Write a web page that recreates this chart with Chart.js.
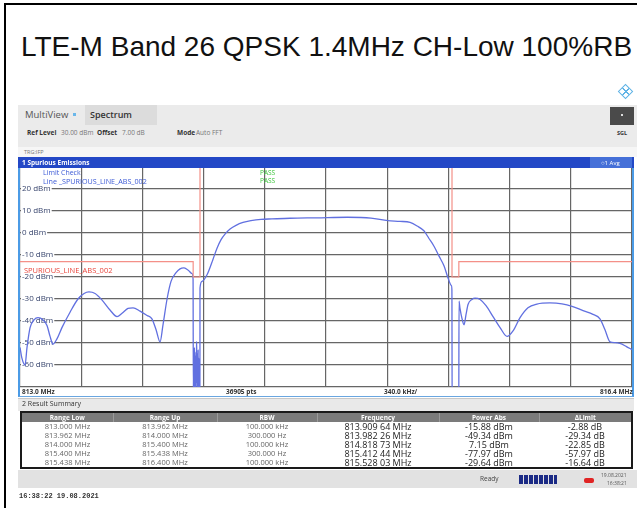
<!DOCTYPE html>
<html>
<head>
<meta charset="utf-8">
<title>LTE-M Band 26 Spurious Emissions</title>
<script src="https://cdn.jsdelivr.net/npm/chart.js@4.4.1/dist/chart.umd.min.js"></script>
<style>
  html, body { margin: 0; padding: 0; background: #fff; }
  body { width: 637px; height: 508px; position: relative; overflow: hidden; font-family: "Open Sans", sans-serif; }
  .t { position: absolute; white-space: nowrap; line-height: 10px; height: 10px; }
  .b { font-weight: bold; }
  #title { position: absolute; left: 21px; top: 31px; line-height: 32px; font: 28px "Liberation Sans", Arial, sans-serif; color: #111; white-space: nowrap; }
  #plotFrame { position: absolute; left: 18px; top: 157px; width: 612px; height: 239px; border-left: 2px solid #4b9be6; border-right: 2px solid #4b9be6; border-bottom: 1px solid #6aa6e0; }
  #plot { position: absolute; left: 20px; top: 165px; }
  #bar { position: absolute; left: 18px; top: 157px; width: 616px; height: 11px; background: #2348c6; z-index: 3; }
  table { position: absolute; left: 20px; top: 411px; border-collapse: collapse; table-layout: fixed; border: 2px solid #1a1a1a; }
  td { padding: 0; height: 9px; line-height: 9px; text-align: center; white-space: nowrap; overflow: hidden; }
  thead td { background: #7b7b7b; color: #fff; font-weight: bold; font-size: 6.5px; border-right: 1px solid #9a9a9a; }
  tbody td { background: #fff; }
  tbody td.s { font-size: 7.5px; color: #666; }
  tbody td.l { font-size: 9px; color: #222; }
</style>
</head>
<body>
<div style="position:absolute;left:4px;top:3px;width:633px;height:2px;background:#000"></div>
<div style="position:absolute;left:4px;top:3px;width:2px;height:505px;background:#000"></div>
<div id="title">LTE-M Band 26 QPSK 1.4MHz CH-Low 100%RB</div>

<!-- instrument icon -->
<div style="position:absolute;left:620px;top:86px;width:9px;height:9px;transform:rotate(45deg);border:1.5px solid #5fb3e6;background:linear-gradient(90deg,transparent 4px,#5fb3e6 4px,#5fb3e6 5.5px,transparent 5.5px),linear-gradient(0deg,transparent 4px,#5fb3e6 4px,#5fb3e6 5.5px,transparent 5.5px)"></div>

<!-- toolbar -->
<div style="position:absolute;left:18px;top:105px;width:619px;height:42px;background:#ebebeb"></div>
<div style="position:absolute;left:18px;top:147px;width:619px;height:10px;background:#f6f6f6"></div>
<div style="position:absolute;left:85px;top:105px;width:72px;height:20px;background:#dcdcdc"></div>
<div class="t" style="left:25px;top:110px;font-size:9.5px;color:#555">MultiView</div>
<div style="position:absolute;left:73px;top:113px;width:3px;height:3px;background:#6ab7ea"></div>
<div class="t" style="left:90px;top:110px;font-size:9px;color:#333;font-weight:600">Spectrum</div>
<div class="t b" style="left:27px;top:128px;font-size:6.5px;color:#333">Ref Level</div>
<div class="t" style="left:61px;top:128px;font-size:6.5px;color:#777">30.00 dBm</div>
<div class="t b" style="left:97px;top:128px;font-size:6.5px;color:#333">Offset</div>
<div class="t" style="left:122px;top:128px;font-size:6.5px;color:#777">7.00 dB</div>
<div class="t b" style="left:177px;top:128px;font-size:6.5px;color:#333">Mode</div>
<div class="t" style="left:196px;top:128px;font-size:6.5px;color:#777">Auto FFT</div>
<div style="position:absolute;left:610px;top:107px;width:24px;height:18px;background:#4a4a4a"></div>
<div style="position:absolute;left:621px;top:114px;width:2px;height:2px;background:#ddd"></div>
<div class="t b" style="left:617px;top:128px;font-size:5.5px;color:#333">SGL</div>
<div class="t" style="left:24px;top:147px;font-size:5.5px;color:#777">TRG:IFP</div>

<!-- diagram window -->
<div id="plotFrame"></div>
<div id="bar"></div>
<div class="t b" style="left:22px;top:157.5px;font-size:6.5px;color:#fff;z-index:4">1 Spurious Emissions</div>
<div style="position:absolute;left:590px;top:157px;width:42px;height:11px;background:#4570d8;z-index:4"></div>
<div class="t" style="left:601px;top:157.5px;font-size:6px;color:#fff;z-index:5">&#9675;1 Avg</div>
<canvas id="plot" width="612" height="224"></canvas>
<div class="t" style="left:43px;top:168px;font-size:7px;color:#3c5ad6;z-index:4">Limit Check</div>
<div class="t" style="left:43px;top:176px;font-size:7.2px;color:#3c5ad6;z-index:4">Line _SPURIOUS_LINE_ABS_002</div>
<div class="t" style="left:260px;top:168px;font-size:6.5px;color:#3cc43c;z-index:4">PASS</div>
<div class="t" style="left:260px;top:176px;font-size:6.5px;color:#3cc43c;z-index:4">PASS</div>
<div class="t" style="left:24px;top:265px;font-size:7.5px;color:#e8453c;z-index:4">SPURIOUS_LINE_ABS_002</div>
<div class="t b" style="left:22px;top:387px;font-size:6.5px;color:#333">813.0 MHz</div>
<div class="t b" style="left:226px;top:387px;font-size:6.5px;color:#333">36905 pts</div>
<div class="t b" style="left:384px;top:387px;font-size:6.5px;color:#333">340.0 kHz/</div>
<div class="t b" style="left:600px;top:387px;font-size:6.5px;color:#333">816.4 MHz</div>

<!-- result summary -->
<div style="position:absolute;left:18px;top:398px;width:616px;height:12px;background:#e9e9e9;border-top:1px solid #c8c8c8"></div>
<div class="t" style="left:22px;top:399px;font-size:7px;color:#333">2 Result Summary</div>
<table id="summary">
  <colgroup><col style="width:92px"><col style="width:104px"><col style="width:100px"><col style="width:122px"><col style="width:100px"><col style="width:93px"></colgroup>
  <thead><tr id="headRow"></tr></thead>
  <tbody id="bodyRows"></tbody>
</table>

<!-- status bar -->
<div style="position:absolute;left:18px;top:470px;width:619px;height:18px;background:#e2e2e2"></div>
<div class="t" style="left:480px;top:474px;font-size:6.5px;color:#444">Ready</div>
<div style="position:absolute;left:519px;top:475px;width:38px;height:9px;background:repeating-linear-gradient(90deg,#1b2a85 0 4px,#e2e2e2 4px 5px)"></div>
<div style="position:absolute;left:584px;top:478px;width:10px;height:5px;border-radius:2px;background:#e02424"></div>
<div class="t" style="left:601px;top:470px;font-size:5px;color:#555">19.08.2021</div>
<div class="t" style="left:607px;top:478px;font-size:5px;color:#555">16:38:21</div>

<div class="t b" style="left:19px;top:492px;font:bold 7px 'Liberation Mono', monospace;color:#333">16:38:22  19.08.2021</div>

<script>
// sweep settings (MHz / dBm)
const freqStart = 813.0;
const freqStop = 816.4;
const freqStep = 0.34;
const refLevel = 30;
const bottomLevel = -70;
const levelLabels = [20, 10, 0, -10, -20, -30, -40, -50, -60];

const traceFreq = [
  813.000, 813.011, 813.028, 813.039, 813.056, 813.078, 813.100, 813.128, 813.150, 813.167,
  813.183, 813.206, 813.233, 813.278, 813.322, 813.356, 813.383, 813.417, 813.456, 813.500,
  813.539, 813.567, 813.600, 813.628, 813.667, 813.706, 813.733, 813.756, 813.778, 813.794,
  813.817, 813.839, 813.867, 813.889, 813.90964, 813.933, 813.956, 813.9615,
  813.963, 813.965, 813.967, 813.969, 813.971, 813.973, 813.975, 813.977, 813.979, 813.981,
  813.98226, 813.984, 813.986, 813.988, 813.990, 813.992, 813.994, 813.996, 813.998, 813.9995,
  814.000, 814.011, 814.039, 814.072, 814.094, 814.117, 814.139, 814.167, 814.200, 814.239,
  814.283, 814.339, 814.400, 814.500, 814.650, 814.81873, 814.950, 815.044, 815.111, 815.167,
  815.206, 815.244, 815.272, 815.300, 815.328, 815.356, 815.378, 815.397, 815.3995,
  815.401, 815.405, 815.410, 815.41244, 815.416, 815.422, 815.428, 815.434, 815.4375,
  815.439, 815.444, 815.456, 815.467, 815.478, 815.489, 815.511, 815.52803, 815.556, 815.589,
  815.628, 815.667, 815.706, 815.739, 815.778, 815.822, 815.872, 815.944, 816.011, 816.067,
  816.128, 816.183, 816.222, 816.250, 816.278, 816.306, 816.333, 816.367, 816.400
];
const traceLevel = [
  -52, -57, -60, -52, -43, -39.5, -38.5, -39.5, -42, -47,
  -50.5, -48, -43, -36, -30, -27.5, -26.8, -27.5, -30.5, -35,
  -38, -36.5, -34.3, -34, -35.5, -37.5, -39, -44, -49.5, -42,
  -30, -22, -18, -16.3, -15.88, -16.8, -18.5, -21,
  -72, -55, -78, -52, -70, -56, -80, -54, -68, -51,
  -49.34, -74, -55, -66, -53, -76, -57, -69, -60, -78,
  -25, -22, -19, -12, -7, -3, -0.5, 1.8, 3.5, 4.8,
  5.6, 6.2, 6.4, 6.7, 6.9, 7.15, 6.8, 5.6, 5.3, 4.8,
  3.2, 1, -2.5, -6, -10.5, -15, -20.5, -24, -26,
  -85, -82, -80, -77.97, -83, -81, -84, -80, -86,
  -31, -34, -39, -41.7, -37, -32.5, -30.2, -29.64, -30.2, -33,
  -38, -43, -47, -44.5, -38.5, -34, -32.3, -31.8, -32.2, -33.3,
  -35.3, -37, -39, -44, -49.5, -49.8, -50.2, -51.5, -53
];

// limit line SPURIOUS_LINE_ABS_002
const limitFreq = [813.0, 813.962, 813.962, 814.0, 814.0, 815.4, 815.4, 815.438, 815.438, 816.4];
const limitLevel = [-13, -13, -20, -20, 30, 30, -20, -20, -13, -13];

// result summary
const rangeLow = ['813.000 MHz', '813.962 MHz', '814.000 MHz', '815.400 MHz', '815.438 MHz'];
const rangeUp = ['813.962 MHz', '814.000 MHz', '815.400 MHz', '815.438 MHz', '816.400 MHz'];
const rbw = ['100.000 kHz', '300.000 Hz', '100.000 kHz', '300.000 Hz', '100.000 kHz'];
const peakFreq = ['813.909 64 MHz', '813.982 26 MHz', '814.818 73 MHz', '815.412 44 MHz', '815.528 03 MHz'];
const powerAbs = ['-15.88 dBm', '-49.34 dBm', '7.15 dBm', '-77.97 dBm', '-29.64 dBm'];
const deltaLimit = ['-2.88 dB', '-29.34 dB', '-22.85 dB', '-57.97 dB', '-16.64 dB'];
const headers = ['Range Low', 'Range Up', 'RBW', 'Frequency', 'Power Abs', '\u0394Limit'];

(function buildTable() {
  const head = document.getElementById('headRow');
  headers.forEach(h => { const td = document.createElement('td'); td.textContent = h; head.appendChild(td); });
  const body = document.getElementById('bodyRows');
  for (let i = 0; i < rangeLow.length; i++) {
    const tr = document.createElement('tr');
    [[rangeLow[i], 's'], [rangeUp[i], 's'], [rbw[i], 's'], [peakFreq[i], 'l'], [powerAbs[i], 'l'], [deltaLimit[i], 'l']]
      .forEach(([txt, cls]) => { const td = document.createElement('td'); td.className = cls; td.textContent = txt; tr.appendChild(td); });
    body.appendChild(tr);
  }
})();

(function renderSpectrum() {
  const ctx = document.getElementById('plot');
  const tracePts = traceFreq.map((f, i) => ({ x: f, y: traceLevel[i] }));
  const limitPts = limitFreq.map((f, i) => ({ x: f, y: limitLevel[i] }));
  const hasLabel = v => levelLabels.includes(v);

  new Chart(ctx, {
    type: 'line',
    data: {
      datasets: [
        { label: 'Limit', data: limitPts, borderColor: '#f49088', borderWidth: 1.2, pointRadius: 0, tension: 0 },
        { label: 'Trace', data: tracePts, borderColor: '#6170e0', borderWidth: 1.3, pointRadius: 0, cubicInterpolationMode: 'monotone' }
      ]
    },
    options: {
      responsive: false,
      animation: false,
      events: [],
      layout: { padding: 0, autoPadding: false },
      plugins: { legend: { display: false }, tooltip: { enabled: false } },
      scales: {
        x: {
          type: 'linear', min: freqStart, max: freqStop,
          ticks: { display: false, stepSize: freqStep },
          grid: { color: '#666', lineWidth: 1.2, drawTicks: false },
          border: { display: false },
          afterFit: s => { s.height = 0; }
        },
        y: {
          min: bottomLevel, max: refLevel,
          ticks: {
            stepSize: 10, mirror: true, padding: 2,
            color: '#39466e', font: { family: 'Open Sans', size: 8 },
            showLabelBackdrop: true,
            backdropColor: c => hasLabel(c.tick.value) ? '#ffffff' : 'rgba(0,0,0,0)',
            backdropPadding: { x: 1, y: 0 },
            // empty array for the edge ticks so they add no label padding
            callback: v => hasLabel(v) ? v + ' dBm' : []
          },
          grid: { color: '#666', lineWidth: 1.2, drawTicks: false },
          border: { display: false },
          afterFit: s => { s.width = 0; }
        }
      }
    }
  });
})();
</script>
</body>
</html>
